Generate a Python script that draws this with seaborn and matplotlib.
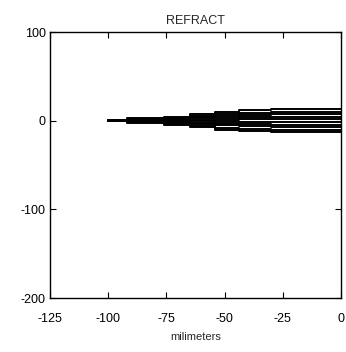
import matplotlib
matplotlib.use("Agg")
import matplotlib.pyplot as plt
import seaborn as sns
import pandas as pd

# Ray bundle: each ray runs horizontally through layers and shifts at each interface
interfaces_x = [-100, -92, -76, -65, -54, -44, -30, 0]
# fraction of a ray's final height reached inside each layer (one per layer)
layer_fraction = [0.05, 0.2, 0.34, 0.58, 0.77, 0.92, 1.0]
ray_heights = [-13, -10, -7, -4.5, -1.5, 1.5, 4.5, 7, 10, 13]

x_ticks = [-125, -100, -75, -50, -25, 0]
y_ticks = [-200, -100, 0, 100]

rows = []
for i, h in enumerate(ray_heights):
    order = 0
    for j, f in enumerate(layer_fraction):
        for xv in (interfaces_x[j], interfaces_x[j + 1]):
            rows.append({"ray": i, "order": order, "x": xv, "y": h * f})
            order += 1
df = pd.DataFrame(rows)

sns.set_style("white")
plt.rcParams["font.family"] = ["Liberation Sans", "DejaVu Sans"]

fig = plt.figure(figsize=(3.46, 3.52), dpi=100)
ax = fig.add_axes([0.1445, 0.1534, 0.841, 0.7556])
sns.lineplot(data=df, x="x", y="y", units="ray", estimator=None, sort=False,
             color="black", linewidth=1.4, ax=ax, legend=False)

ax.set_xlim(-125, 0)
ax.set_ylim(-200, 100)
ax.set_xticks(x_ticks)
ax.set_yticks(y_ticks)
ax.set_xticklabels([str(t) for t in x_ticks])
ax.set_yticklabels([str(t) for t in y_ticks])
ax.tick_params(direction="in", length=4, width=0.8, labelsize=9,
               top=True, right=True, bottom=True, left=True, colors="black")
ax.tick_params(axis="x", pad=11)
ax.tick_params(axis="y", pad=3)
for s in ax.spines.values():
    s.set_color("black")
    s.set_linewidth(1.0)
ax.set_title("REFRACT", fontsize=9, pad=6)
ax.set_xlabel("milimeters", fontsize=8, labelpad=5)
ax.set_ylabel("")

fig.savefig("out.png", dpi=100)
